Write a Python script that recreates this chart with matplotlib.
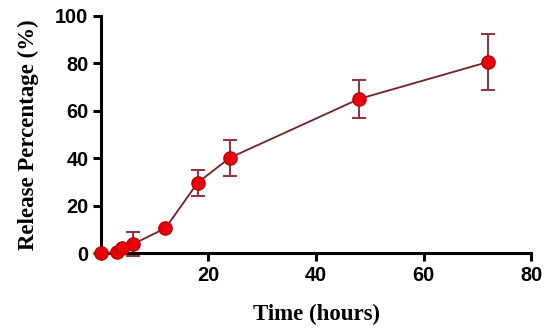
import matplotlib
matplotlib.use("Agg")
import matplotlib.pyplot as plt

time_h = [0, 3, 4, 6, 12, 18, 24, 48, 72]
release = [0, 0.3, 2.2, 3.8, 10.5, 29.7, 40.2, 65, 80.6]
err = [0, 0, 0, 5.2, 0, 5.5, 7.5, 8, 11.8]
x_ticks = [20, 40, 60, 80]
y_ticks = [0, 20, 40, 60, 80, 100]

fig = plt.figure(figsize=(5.5, 3.31), dpi=100)
ax = fig.add_axes([0.1836, 0.2356, 0.7819, 0.7161])

line_col = "#6e2327"
ax.errorbar(time_h, release, yerr=err, fmt="none", ecolor="#8a3a40",
            elinewidth=1.5, capsize=5, capthick=1.5, zorder=2, clip_on=False)
ax.plot(time_h, release, color=line_col, lw=1.3, zorder=3, clip_on=False)
ax.plot(time_h, release, "o", ms=9.5, mfc="#e8000b", mec="#c00000", mew=1,
        zorder=4, clip_on=False)

ax.set_xlim(0, 80)
ax.set_ylim(0, 100)
ax.set_xticks(x_ticks)
ax.set_yticks(y_ticks)
for s in ["top", "right"]:
    ax.spines[s].set_visible(False)
for s in ["left", "bottom"]:
    ax.spines[s].set_linewidth(2.2)
ax.tick_params(direction="out", length=6, width=2.2, pad=3)
for lab in ax.get_xticklabels() + ax.get_yticklabels():
    lab.set_fontfamily("Liberation Sans")
    lab.set_fontweight("bold")
    lab.set_fontsize(14.3)

ax.set_xlabel("Time (hours)", fontfamily="Liberation Serif", fontweight="bold",
              fontsize=16.5, labelpad=14)
ax.set_ylabel("Release Percentage (%)", fontfamily="Liberation Serif",
              fontweight="bold", fontsize=16.5, labelpad=12)

fig.savefig("out.png", dpi=100)
